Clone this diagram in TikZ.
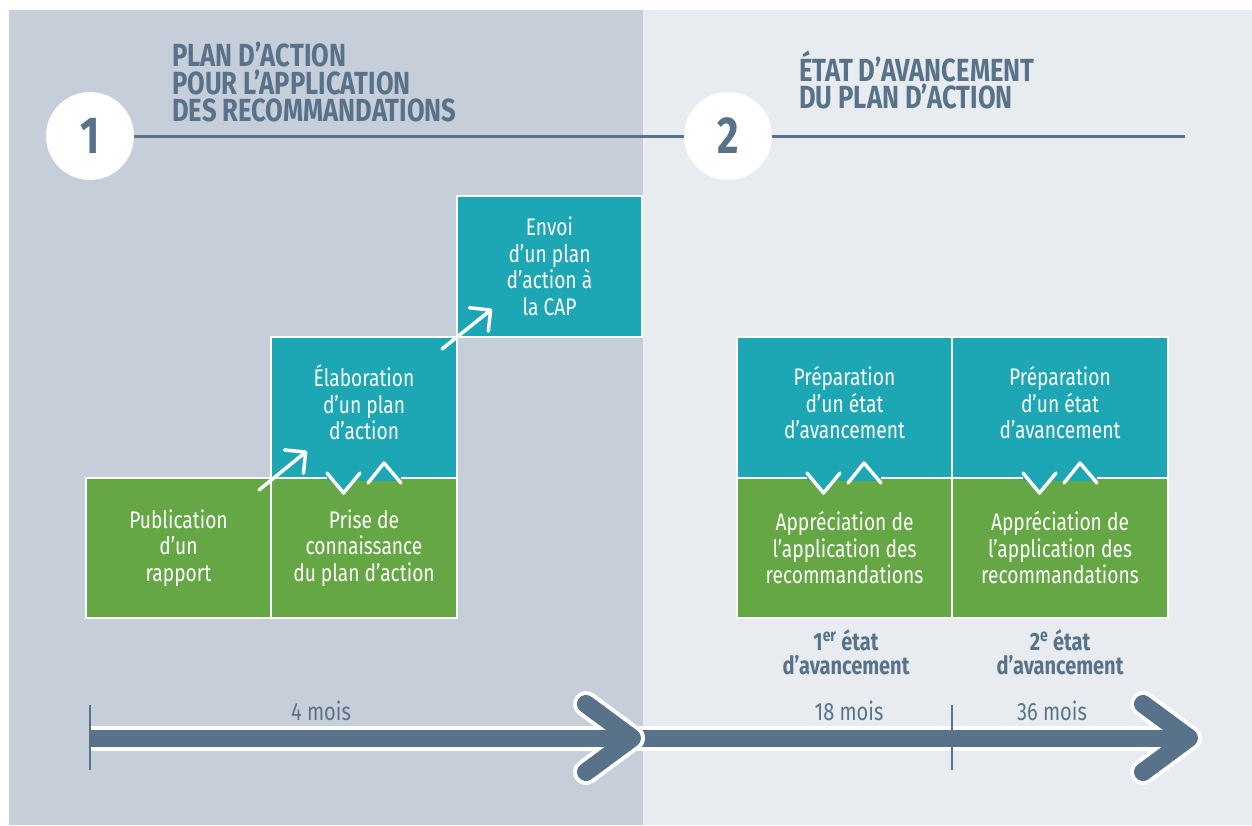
\documentclass[tikz,border=0pt]{standalone}
\usepackage{fontspec}
\setmainfont{Fira Sans}[FakeStretch=0.8]
\usetikzlibrary{arrows.meta}
\definecolor{slate}{HTML}{587389}
\definecolor{bgL}{HTML}{C6CED9}
\definecolor{bgR}{HTML}{E8ECF0}
\definecolor{grn}{HTML}{65A745}
\definecolor{tealbox}{HTML}{1DA6B4}
\newcommand{\lift}{\rule[-10pt]{0pt}{10pt}}
\tikzset{
  box/.style={draw=white, line width=2pt, inner sep=0pt, text=white, align=center,
    font=\fontsize{24}{26.5}\selectfont},
  gbox/.style={box, fill=grn},
  tbox/.style={box, fill=tealbox},
  wline/.style={white, line width=3.5pt, line cap=round, line join=round},
  warrow/.style={wline, -{Straight Barb[length=15pt,width=30pt,round]}},
  numcircle/.style={circle, fill=white, minimum size=88pt, inner sep=0pt, text=slate,
    font=\fontsize{52}{52}\selectfont\bfseries},
  title/.style={anchor=west, align=left, text=slate, inner sep=0pt,
    font=\fontsize{32}{27.5}\selectfont\bfseries},
  mois/.style={text=slate, inner sep=0pt, font=\fontsize{25}{26}\selectfont},
  etat/.style={text=slate, inner sep=0pt, align=center, font=\fontsize{25}{24}\selectfont\bfseries},
  zigzag/.pic={
    \fill[tealbox] (0,-2.5) rectangle (74,2.5);
    \fill[tealbox] (0,-5) -- (16.5,15) -- (33,-5) -- cycle;
    \draw[wline, line width=3.5pt] (0,-5) -- (16.5,15) -- (33,-5);
    \draw[wline, line width=3.5pt] (41,5) -- (57,-15) -- (74,5);
  }
}
\begin{document}
\begin{tikzpicture}[x=1pt, y=-1pt]
\useasboundingbox (0,0) rectangle (1252,825);
\fill[white] (0,0) rectangle (1252,825);
\fill[bgL] (9,10) rectangle (643,825);
\fill[bgR] (643,10) rectangle (1252,825);

% headers
\node[numcircle] (n1) at (90,136) {1};
\node[numcircle] (n2) at (728,136) {2};
\coordinate (lend) at (1185,136);
\draw[slate, line width=3pt] (n1.east) -- (n2.west);
\draw[slate, line width=3pt] (n2.east) -- (lend);
\node[title] (title1) at (172,82.5) {PLAN D’ACTION\\POUR L’APPLICATION\\DES RECOMMANDATIONS};
\node[title] (title2) at (799,80) {ÉTAT D’AVANCEMENT\\DU PLAN D’ACTION};

% boxes
\node[gbox, minimum width=185pt, minimum height=140pt] (pub) at (178.5,548) {Publication\\d’un\\rapport};
\node[gbox, minimum width=186pt, minimum height=140pt] (prise) at (364,548) {Prise de\\connaissance\\du plan d’action};
\node[tbox, minimum width=186pt, minimum height=141pt] (elab) at (364,407.5) {Élaboration\\d’un plan\\d’action\lift};
\node[tbox, minimum width=185pt, minimum height=141pt] (envoi) at (549.5,266.5) {Envoi\\d’un plan\\d’action à\\la CAP};
\node[tbox, minimum width=215pt, minimum height=141pt] (prep1) at (844.5,407.5) {Préparation\\d’un état\\d’avancement\lift};
\node[tbox, minimum width=216pt, minimum height=141pt] (prep2) at (1060,407.5) {Préparation\\d’un état\\d’avancement\lift};
\node[gbox, minimum width=215pt, minimum height=140pt] (appr1) at (844.5,548) {Appréciation de\\l’application des\\recommandations};
\node[gbox, minimum width=216pt, minimum height=140pt] (appr2) at (1060,548) {Appréciation de\\l’application des\\recommandations};

\pic at (327,478) {zigzag};
\pic at (807,478) {zigzag};
\pic at (1023,478) {zigzag};

% white arrows
\coordinate (a1s) at (259,490);
\coordinate (a1e) at (307,451);
\coordinate (a2s) at (442,349);
\coordinate (a2e) at (492,309);
\draw[warrow] (a1s) -- (a1e);
\draw[warrow] (a2s) -- (a2e);

% labels under right boxes
\node[etat] (e1) at (846,652) {1\textsuperscript{er} état\\d’avancement};
\node[etat] (e2) at (1060,652) {2\textsuperscript{e} état\\d’avancement};

% timeline
\coordinate (t0) at (90,738);
\coordinate (t1) at (632,738);
\coordinate (t2) at (1189,738);
\coordinate (c1a) at (586,704);
\coordinate (c1b) at (586,772);
\coordinate (c2a) at (1143,704);
\coordinate (c2b) at (1143,772);
\draw[white, line width=25pt] (t0) -- (t2);
\draw[slate, line width=17pt] (t0) -- (t2);
\draw[white, line width=26pt, line cap=round, line join=round] (c1a) -- (t1) -- (c1b);
\draw[slate, line width=17pt] (t0) -- ([xshift=-4pt]t1);
\draw[slate, line width=18pt, line cap=round, line join=round] (c1a) -- (t1) -- (c1b);
\draw[white, line width=26pt, line cap=round, line join=round] (c2a) -- (t2) -- (c2b);
\draw[slate, line width=17pt] ([xshift=20pt]t1) -- ([xshift=-4pt]t2);
\draw[slate, line width=18pt, line cap=round, line join=round] (c2a) -- (t2) -- (c2b);
\coordinate (k0a) at (90,705);
\coordinate (k0b) at (90,770);
\coordinate (k1a) at (952,705);
\coordinate (k1b) at (952,770);
\draw[slate, line width=2pt] (k0a) -- (k0b);
\draw[slate, line width=2pt] (k1a) -- (k1b);
\node[mois] (m4) at (321,711) {4 mois};
\node[mois] (m18) at (849,711) {18 mois};
\node[mois] (m36) at (1052,711) {36 mois};
\end{tikzpicture}
\end{document}
